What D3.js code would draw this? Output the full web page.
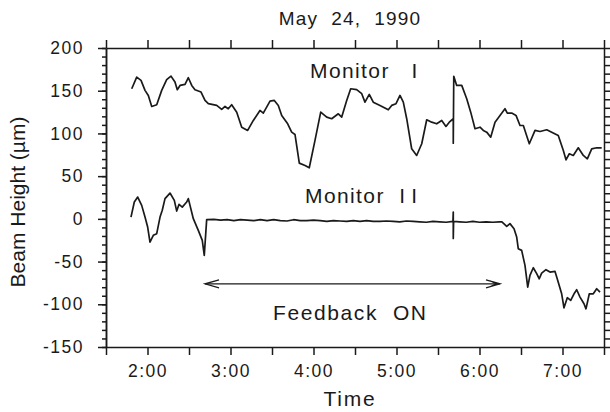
<!DOCTYPE html>
<html>
<head>
<meta charset="utf-8">
<script src="https://cdn.jsdelivr.net/npm/d3@7"></script>
<style>
  body { margin: 0; background: #fff; }
  svg { font-family: "Liberation Sans", Arial, sans-serif; }
  .axis path, .axis line { stroke: #1a1a1a; stroke-width: 1.5; }
  .axis text { fill: #1a1a1a; font-size: 17.5px; letter-spacing: 1.5px; }
</style>
</head>
<body>
<script>
// time in decimal hours, beam height in µm
var m1Hours = [1.810, 1.870, 1.922, 1.970, 2.010, 2.051, 2.111, 2.171, 2.231, 2.283,
  2.331, 2.359, 2.392, 2.452, 2.492, 2.533, 2.572, 2.645, 2.693, 2.733,
  2.834, 2.894, 2.934, 2.973, 3.014, 3.075, 3.135, 3.207, 3.275, 3.355,
  3.395, 3.476, 3.528, 3.576, 3.617, 3.689, 3.737, 3.777, 3.829, 3.898,
  3.949, 4.018, 4.087, 4.159, 4.219, 4.299, 4.340, 4.400, 4.448, 4.520,
  4.581, 4.620, 4.672, 4.720, 4.801, 4.901, 4.942, 4.994, 5.042, 5.082,
  5.123, 5.183, 5.243, 5.304, 5.364, 5.424, 5.484, 5.545, 5.596, 5.636,
  5.684, 5.684, 5.690, 5.725, 5.786, 5.846, 5.894, 5.946, 6.006, 6.046,
  6.087, 6.135, 6.187, 6.247, 6.307, 6.335, 6.388, 6.440, 6.488, 6.528,
  6.600, 6.669, 6.729, 6.810, 6.870, 6.949, 7.010, 7.042, 7.082, 7.130,
  7.190, 7.251, 7.299, 7.352, 7.412, 7.472];
var m1Values = [152.3, 165.9, 162.1, 150.4, 144.5, 131.6, 133.6, 150.4, 162.9, 167.1,
  160.1, 151.2, 156.2, 157.4, 165.2, 156.2, 151.2, 148.4, 138.6, 134.8,
  132.8, 128.1, 131.6, 128.9, 133.6, 124.9, 107.3, 103.5, 115.2, 126.9,
  123.8, 137.8, 138.6, 132.8, 121.1, 111.3, 101.5, 98.8, 65.2, 62.5,
  59.8, 91.8, 124.9, 119.1, 117.2, 123.0, 119.1, 138.6, 152.3, 151.2,
  146.5, 136.6, 145.7, 136.6, 132.8, 127.7, 132.8, 134.8, 144.5, 136.6,
  117.2, 82.0, 74.2, 87.9, 116.0, 113.2, 111.3, 115.2, 108.2, 113.2,
  117.2, 88.6, 166.8, 156.2, 156.2, 140.6, 124.9, 105.5, 107.3, 103.5,
  101.5, 95.6, 113.2, 121.1, 128.9, 123.8, 123.8, 121.1, 109.3, 109.3,
  87.9, 103.5, 102.3, 104.3, 101.5, 97.6, 80.0, 69.1, 76.2, 74.2,
  83.2, 74.2, 70.3, 82.0, 83.2, 83.2];

var m2Hours = [1.801, 1.841, 1.882, 1.930, 1.970, 2.002, 2.030, 2.070, 2.111, 2.151,
  2.178, 2.211, 2.271, 2.323, 2.352, 2.380, 2.419, 2.472, 2.492, 2.552,
  2.612, 2.660, 2.684, 2.713, 2.80, 2.88, 2.96, 3.04, 3.12, 3.20,
  3.28, 3.36, 3.44, 3.52, 3.60, 3.68, 3.76, 3.84, 3.92, 4.00,
  4.08, 4.16, 4.24, 4.32, 4.40, 4.48, 4.56, 4.64, 4.72, 4.80,
  4.88, 4.96, 5.04, 5.12, 5.20, 5.28, 5.36, 5.44, 5.52, 5.60,
  5.680, 5.684, 5.684, 5.688, 5.76, 5.84, 5.92, 6.00, 6.08, 6.16,
  6.24, 6.27, 6.328, 6.367, 6.416, 6.448, 6.467, 6.508, 6.548, 6.581,
  6.608, 6.648, 6.689, 6.720, 6.749, 6.801, 6.849, 6.910, 6.949, 6.990,
  7.018, 7.058, 7.099, 7.139, 7.171, 7.211, 7.259, 7.283, 7.323, 7.371,
  7.412, 7.452];
var m2Values = [2.1, 19.7, 25.5, 15.8, 2.1, -9.6, -27.2, -19.3, -17.3, 2.1,
  10.0, 23.7, 30.2, 21.7, 9.1, 17.0, 13.8, 19.7, 23.7, 0.2,
  -13.5, -25.2, -42.8, -0.9, -0.5, -1.5, -1, -2, -1, -1.5,
  -2, -1, -2, -1, -2, -2.5, -1, -2, -2, -1.5,
  -2, -3, -2, -2.5, -3, -2, -3, -2, -3, -3,
  -2.5, -3, -3.5, -2.5, -3, -3.5, -4, -3, -3.5, -4,
  -3, 8, -23, -3, -3.5, -4, -3, -4, -3.5, -4,
  -3.5, -3.5, -8.8, -5.6, -11.5, -21.3, -34.9, -36.9, -54.5, -79.9,
  -66.2, -57.2, -64.2, -70.1, -63.5, -59.5, -62.3, -61.5, -74.1, -87.7,
  -104.1, -92.3, -95.5, -87.7, -83.0, -91.6, -99.4, -105.3, -87.7, -87.7,
  -81.8, -85.8];

var xTickHours = [2, 3, 4, 5, 6, 7];
var xTickLabels = ["2:00", "3:00", "4:00", "5:00", "6:00", "7:00"];
var yTicks = [200, 150, 100, 50, 0, -50, -100, -150];
var feedbackOn = [2.693, 6.247]; // hours, arrow span
var feedbackLevel = -76;

var W = 610, H = 412;
var margin = { top: 48, right: 6, bottom: 65, left: 106 },
    width = W - margin.left - margin.right,
    height = H - margin.top - margin.bottom;

var ink = "#1a1a1a";

var x = d3.scaleLinear().domain([1.5, 7.5]).range([0, width]);
var y = d3.scaleLinear().domain([-150, 200]).range([height, 0]);

var svg = d3.select("body").append("svg")
    .attr("width", W)
    .attr("height", H);

var g = svg.append("g")
    .attr("transform", "translate(" + margin.left + "," + margin.top + ")");

var halfHours = d3.range(1.5, 7.51, 0.5);
var tens = d3.range(-150, 201, 10);

// bottom axis
g.append("g")
    .attr("class", "axis")
    .attr("transform", "translate(0," + height + ")")
    .call(d3.axisBottom(x).tickValues(halfHours).tickSize(8).tickSizeOuter(0).tickPadding(10)
        .tickFormat(function (d) {
            var i = xTickHours.indexOf(d);
            return i >= 0 ? xTickLabels[i] : "";
        }));

// top axis
g.append("g")
    .attr("class", "axis")
    .call(d3.axisTop(x).tickValues(halfHours).tickSize(8).tickSizeOuter(0).tickFormat(""));

// left axis: minor then major
g.append("g")
    .attr("class", "axis")
    .call(d3.axisLeft(y).tickValues(tens).tickSize(4).tickSizeOuter(0).tickFormat(""));
g.append("g")
    .attr("class", "axis")
    .call(d3.axisLeft(y).tickValues(yTicks).tickSize(8).tickSizeOuter(0).tickPadding(14)
        .tickFormat(function (d) { return d < 0 ? "-" + Math.abs(d) : d; }));

// right axis
g.append("g")
    .attr("class", "axis")
    .attr("transform", "translate(" + width + ",0)")
    .call(d3.axisRight(y).tickValues(tens).tickSize(6).tickSizeOuter(0).tickFormat(""));

g.selectAll(".axis .domain").attr("stroke-width", 1.6);

// traces
var line = d3.line()
    .x(function (d) { return x(d[0]); })
    .y(function (d) { return y(d[1]); });

var m1 = m1Hours.map(function (h, i) { return [h, m1Values[i]]; });
var m2 = m2Hours.map(function (h, i) { return [h, m2Values[i]]; });

[m1, m2].forEach(function (s) {
    g.append("path")
        .datum(s)
        .attr("fill", "none")
        .attr("stroke", ink)
        .attr("stroke-width", 1.7)
        .attr("stroke-linejoin", "round")
        .attr("d", line);
});

// feedback arrow
var ax0 = x(feedbackOn[0]), ax1 = x(feedbackOn[1]), ay = y(feedbackLevel);
g.append("line")
    .attr("x1", ax0).attr("x2", ax1)
    .attr("y1", ay).attr("y2", ay)
    .attr("stroke", ink).attr("stroke-width", 1.2);
g.append("path")
    .attr("d", "M" + (ax0 + 14) + "," + (ay - 4) + "L" + ax0 + "," + ay + "L" + (ax0 + 14) + "," + (ay + 4))
    .attr("fill", "none").attr("stroke", ink).attr("stroke-width", 1.3);
g.append("path")
    .attr("d", "M" + (ax1 - 14) + "," + (ay - 4) + "L" + ax1 + "," + ay + "L" + (ax1 - 14) + "," + (ay + 4)
        + "M" + (ax1 - 10) + "," + (ay - 3) + "L" + (ax1 - 4) + "," + ay + "L" + (ax1 - 10) + "," + (ay + 3))
    .attr("fill", "none").attr("stroke", ink).attr("stroke-width", 1.3);

// texts
function label(txt, px, py, size, ls, anchor) {
    return svg.append("text")
        .attr("x", px).attr("y", py)
        .attr("fill", ink)
        .attr("font-size", size)
        .attr("letter-spacing", ls)
        .attr("text-anchor", anchor || "start")
        .style("white-space", "pre")
        .text(txt);
}

label("May  24,  1990", 350, 25, 19, 1.2, "middle");
label("Time", 350, 406, 21, 1.8, "middle");
label("Monitor   I", 310, 78, 21, 1.4);
var mon2 = label("Monitor  ", 305, 203, 21, 1.4);
mon2.append("tspan").attr("letter-spacing", 6).text("II");
label("Feedback  ON", 273, 320, 21, 1.6);

svg.append("text")
    .attr("transform", "translate(25,202) rotate(-90)")
    .attr("fill", ink)
    .attr("font-size", 21)
    .attr("text-anchor", "middle")
    .text("Beam Height (µm)");
</script>
</body>
</html>
